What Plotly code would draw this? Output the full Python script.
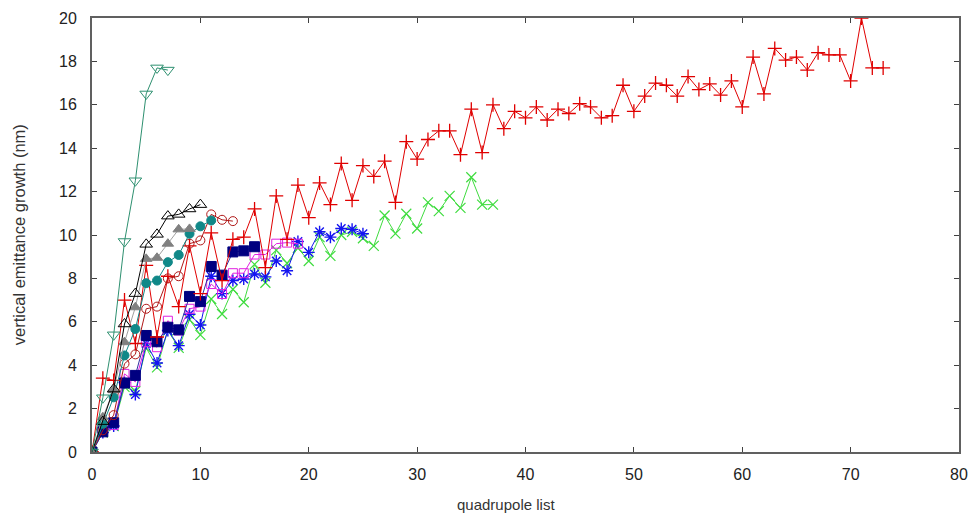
import plotly.graph_objects as go

# ---- data ----
x_tri_down = [0, 1, 2, 3, 4, 5, 6, 7]
y_tri_down = [0, 2.5, 5.4, 9.7, 12.5, 16.5, 17.7, 17.6]

x_plus = list(range(0, 74))
y_plus = [0, 3.4, 3.3, 7.0, 5.0, 8.6, 5.3, 8.1, 6.7, 9.5,
          7.3, 10.1, 7.9, 9.8, 9.9, 11.2, 8.5, 11.8, 9.8, 12.3,
          10.8, 12.4, 11.4, 13.3, 11.6, 13.2, 12.7, 13.4, 11.5, 14.3,
          13.5, 14.4, 14.8, 14.8, 13.7, 15.8, 13.8, 16.0, 14.9, 15.7,
          15.4, 15.9, 15.3, 15.8, 15.6, 16.05, 15.9, 15.4, 15.5, 16.9,
          15.7, 16.4, 17.0, 16.9, 16.4, 17.3, 16.7, 16.96, 16.45, 17.1,
          15.9, 18.2, 16.5, 18.6, 18.06, 18.2, 17.6, 18.4, 18.3, 18.3,
          17.1, 20.0, 17.7, 17.7]

x_xmark = list(range(0, 38))
y_xmark = [0, 0.9, 1.2, 3.0, 2.8, 4.8, 3.9, 5.6, 4.8, 6.1,
           5.4, 7.05, 6.36, 7.5, 6.9, 8.65, 7.8, 9.3, 8.7, 9.4,
           8.8, 9.9, 9.04, 10.0, 10.15, 9.85, 9.5, 10.9, 10.06, 10.98,
           10.3, 11.5, 11.1, 11.8, 11.25, 12.66, 11.4, 11.4]

x_star = list(range(0, 26))
y_star = [0, 0.9, 1.2, 3.2, 2.65, 5.0, 4.1, 5.6, 4.9, 6.35,
          5.85, 8.1, 7.3, 7.9, 7.97, 8.2, 8.07, 8.8, 8.35, 9.7,
          9.2, 10.15, 9.9, 10.3, 10.26, 10.06]

x_sq_open = list(range(0, 20))
y_sq_open = [0, 1.16, 1.24, 3.6, 3.23, 5.06, 4.83, 6.05, 5.6, 6.6,
             6.7, 7.74, 7.28, 8.24, 8.24, 9.1, 9.1, 9.6, 9.65, 9.6]

x_sq_fill = list(range(0, 16))
y_sq_fill = [0, 0.93, 1.35, 3.18, 3.53, 5.37, 5.08, 5.75, 5.63, 7.17,
             6.93, 8.55, 8.15, 9.22, 9.27, 9.46]

x_circ_open = list(range(0, 14))
y_circ_open = [0, 1.0, 1.7, 4.07, 4.5, 6.6, 6.7, 8.0, 8.1, 9.6,
               9.75, 10.95, 10.7, 10.64]

x_circ_fill = list(range(0, 12))
y_circ_fill = [0, 1.3, 2.52, 4.45, 5.67, 7.78, 7.9, 8.75, 9.08, 10.06,
               10.4, 10.67]

x_tri_fill = list(range(0, 10))
y_tri_fill = [0, 1.6, 2.85, 5.06, 6.67, 8.9, 8.95, 9.6, 10.26, 10.28]

x_tri_open = list(range(0, 11))
y_tri_open = [0, 1.4, 2.9, 5.9, 7.3, 9.57, 10.03, 10.87, 10.95, 11.2, 11.4]

x_ticks = [0, 10, 20, 30, 40, 50, 60, 70, 80]
y_ticks = [0, 2, 4, 6, 8, 10, 12, 14, 16, 18, 20]

# ---- figure ----
fig = go.Figure()

def add(x, y, color, symbol, size=9, lw=1, mlw=1, mcolor=None, lcolor=None):
    fig.add_trace(go.Scatter(
        x=x, y=y, mode="lines+markers",
        line=dict(color=lcolor or color, width=lw),
        marker=dict(symbol=symbol, size=size, color=mcolor or color,
                    line=dict(color=color, width=mlw)),
        showlegend=False, hoverinfo="x+y"))

add(x_xmark, y_xmark, "#3fdc3f", "x-thin-open", size=10, mlw=1.2)
add(x_star, y_star, "#1414f0", "asterisk-open", size=10, mlw=1.4)
add(x_sq_open, y_sq_open, "#e020e0", "square-open", size=9)
add(x_sq_fill, y_sq_fill, "#000080", "square", size=10, lcolor="#3030a0")
add(x_plus, y_plus, "#e00000", "cross-thin-open", size=10, mlw=1.3)
add(x_circ_open, y_circ_open, "#b01818", "circle-open", size=9)
add(x_circ_fill, y_circ_fill, "#108888", "circle", size=9)
add(x_tri_fill, y_tri_fill, "#808080", "triangle-up", size=10, lcolor="#a0a0a0")
add(x_tri_open, y_tri_open, "#000000", "triangle-up-open", size=11)
add(x_tri_down, y_tri_down, "#2e9070", "triangle-down-open", size=11)

axis_common = dict(
    showline=True, linecolor="#606060", linewidth=2, mirror="ticks",
    ticks="inside", ticklen=5, tickcolor="#404040", tickwidth=1,
    showgrid=False, zeroline=False,
    tickfont=dict(family="Liberation Sans, Arial, sans-serif", size=16, color="#222222"),
)

fig.update_xaxes(range=[0, 80], tickvals=x_ticks, ticktext=[str(v) for v in x_ticks],
                 ticklabelstandoff=7, **axis_common)
fig.update_yaxes(range=[0, 20], tickvals=y_ticks, ticktext=[str(v) for v in y_ticks],
                 ticklabelstandoff=10, **axis_common)

fig.add_annotation(text="quadrupole list", xref="paper", yref="paper",
                   x=0.477, y=-0.122, xanchor="center", yanchor="middle",
                   showarrow=False,
                   font=dict(family="Liberation Sans, Arial, sans-serif", size=15, color="#333333"))
fig.add_annotation(text="vertical emittance growth (nm)", xref="paper", yref="paper",
                   x=-0.084, y=0.5, xanchor="center", yanchor="middle", textangle=-90,
                   showarrow=False,
                   font=dict(family="Liberation Sans, Arial, sans-serif", size=16.5, color="#333333"))

fig.update_layout(
    width=978, height=517,
    margin=dict(l=92, r=10, t=16, b=65),
    paper_bgcolor="white", plot_bgcolor="white",
)

fig.write_html("out.html")
